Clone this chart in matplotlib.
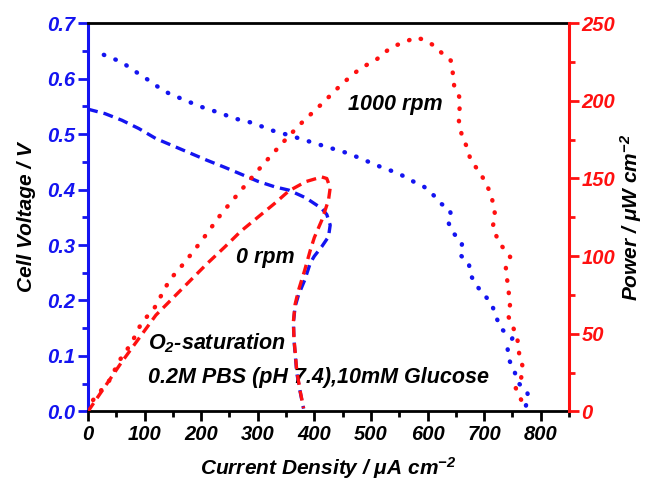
import matplotlib
matplotlib.use('Agg')
import matplotlib.pyplot as plt
from matplotlib.ticker import MultipleLocator

plt.rcParams['font.family'] = ['Liberation Sans', 'DejaVu Sans']
plt.rcParams['font.weight'] = 'bold'
plt.rcParams['font.style'] = 'italic'
plt.rcParams['axes.labelweight'] = 'bold'
plt.rcParams['mathtext.fontset'] = 'custom'
plt.rcParams['mathtext.rm'] = 'Liberation Sans:bold:italic'
plt.rcParams['mathtext.it'] = 'Liberation Sans:bold:italic'
plt.rcParams['mathtext.bf'] = 'Liberation Sans:bold:italic'

BLUE = '#1414f0'
RED = '#ff1010'

# ---- 0 rpm (current density, cell voltage, power) ----
current_0rpm = [0, 30, 60, 90, 120, 150, 180, 210, 242, 270, 300, 330, 355, 385,
                413, 422, 428, 425, 413, 400, 393, 383, 372, 366, 363, 364, 369, 375, 381]
voltage_0rpm = [0.545, 0.537, 0.525, 0.510, 0.492, 0.479, 0.466, 0.453, 0.440, 0.428,
                0.415, 0.405, 0.399, 0.385, 0.366, 0.355, 0.336, 0.315, 0.297, 0.280,
                0.268, 0.237, 0.210, 0.189, 0.160, 0.129, 0.069, 0.035, 0.005]
power_0rpm = [0, 16, 32, 47, 62, 73, 84, 95, 106, 116, 125, 134, 142, 148,
              151, 150, 144, 136, 123, 112, 104, 91, 78, 69, 58, 47, 26, 13, 2]

# ---- 1000 rpm cell voltage ----
current_v1000 = [28, 57, 71, 88, 106, 121, 142, 174, 206, 231, 260, 292, 324, 352,
                 387, 422, 461, 496, 517, 549, 576, 594, 617, 623, 638, 641, 635, 644,
                 661, 658, 673, 676, 688, 703, 714, 720, 729, 750, 741, 744, 753, 759,
                 776, 779, 774, 774]
voltage_1000 = [0.643, 0.631, 0.622, 0.610, 0.598, 0.587, 0.574, 0.560, 0.547, 0.539,
                0.528, 0.520, 0.507, 0.499, 0.488, 0.477, 0.465, 0.450, 0.441, 0.429,
                0.414, 0.405, 0.384, 0.375, 0.366, 0.357, 0.345, 0.324, 0.303, 0.282,
                0.267, 0.246, 0.225, 0.207, 0.192, 0.174, 0.150, 0.132, 0.117, 0.093,
                0.075, 0.053, 0.035, 0.023, 0.011, 0.003]

# ---- 1000 rpm power ----
current_p1000 = [0, 9, 38, 56, 77, 94, 118, 144, 171, 201, 236, 295, 324, 354, 378,
                 413, 449, 475, 496, 511, 534, 546, 561, 579, 596, 614, 626, 641, 644,
                 647, 658, 655, 661, 670, 676, 694, 703, 712, 717, 720, 715, 726, 746,
                 738, 740, 743, 746, 743, 750, 759, 762, 768, 765, 756, 762, 770, 770]
power_1000 = [0, 7.3, 20, 33, 44, 56.6, 67, 84.5, 96, 110, 127.5, 153, 165, 177, 186,
              198, 211, 219, 224, 227, 234, 236, 238, 241, 239, 235, 230.5, 226, 220,
              210, 201, 188, 177, 170, 162, 153, 147, 140, 132, 125, 119, 109, 99.5,
              94, 87, 78, 69.5, 61, 55.6, 46, 37, 29, 20, 15, 9.4, 5, 1]

x_ticks = [0, 100, 200, 300, 400, 500, 600, 700, 800]
v_ticks = [0.0, 0.1, 0.2, 0.3, 0.4, 0.5, 0.6, 0.7]
p_ticks = [0, 50, 100, 150, 200, 250]

fig = plt.figure(figsize=(6.46, 4.84), dpi=100)
ax = fig.add_axes([0.1362, 0.150, 0.7446, 0.802])
ax2 = ax.twinx()

dash = (0, (3, 1.8))
dot = (0, (0.1, 2.7))

ax.plot(current_0rpm, voltage_0rpm, color=BLUE, lw=2.4, linestyle=dash)
ax.plot(current_v1000, voltage_1000, color=BLUE, lw=3.2, linestyle=dot,
        dash_capstyle='round')
ax2.plot(current_0rpm, power_0rpm, color=RED, lw=2.4, linestyle=dash)
ax2.plot(current_p1000, power_1000, color=RED, lw=3.2, linestyle=dot,
         dash_capstyle='round')

ax.set_xlim(0, 850)
ax.set_ylim(0, 0.7)
ax2.set_ylim(0, 250)

ax.set_xticks(x_ticks)
ax.set_xticklabels([str(t) for t in x_ticks])
ax.xaxis.set_minor_locator(MultipleLocator(50))
ax.set_yticks(v_ticks)
ax.set_yticklabels([f'{t:.1f}' for t in v_ticks])
ax.yaxis.set_minor_locator(MultipleLocator(0.05))
ax2.set_yticks(p_ticks)
ax2.set_yticklabels([str(t) for t in p_ticks])
ax2.yaxis.set_minor_locator(MultipleLocator(25))

tick_fs = 14.5
ax.tick_params(axis='x', which='both', direction='out', colors='black',
               labelsize=tick_fs, width=2, top=False, pad=3)
ax.tick_params(axis='x', which='major', length=7)
ax.tick_params(axis='x', which='minor', length=4)
ax.tick_params(axis='y', which='both', direction='out', colors=BLUE,
               labelsize=tick_fs, width=2, right=False, pad=2)
ax.tick_params(axis='y', which='major', length=7)
ax.tick_params(axis='y', which='minor', length=4)
ax2.tick_params(axis='y', which='both', direction='out', colors=RED,
                labelsize=tick_fs, width=2, pad=2)
ax2.tick_params(axis='y', which='major', length=7)
ax2.tick_params(axis='y', which='minor', length=4)

for s in ['top', 'bottom']:
    ax.spines[s].set_linewidth(2)
    ax.spines[s].set_color('black')
ax.spines['left'].set_color(BLUE)
ax.spines['left'].set_linewidth(2.2)
ax.spines['right'].set_visible(False)
for s in ['top', 'bottom', 'left']:
    ax2.spines[s].set_visible(False)
ax2.spines['right'].set_color(RED)
ax2.spines['right'].set_linewidth(2.2)

lab_fs = 15
ax.set_xlabel('Current Density / μA cm$^{-2}$', fontsize=lab_fs,
              fontweight='bold', labelpad=8)
ax.set_ylabel('Cell Voltage / V', fontsize=lab_fs, fontweight='bold', labelpad=8)
ax2.set_ylabel('Power / μW cm$^{-2}$', fontsize=lab_fs, fontweight='bold',
               labelpad=2)

ann_fs = 15.5
ax.text(543, 0.553, '1000 rpm', fontsize=ann_fs, ha='center', va='center')
ax.text(313, 0.278, '0 rpm', fontsize=ann_fs, ha='center', va='center')
ax.text(106, 0.123, 'O$_2$-saturation', fontsize=ann_fs, ha='left', va='center')
ax.text(106, 0.062, '0.2M PBS (pH 7.4),10mM Glucose', fontsize=ann_fs,
        ha='left', va='center')

fig.savefig('out.png', dpi=100)
